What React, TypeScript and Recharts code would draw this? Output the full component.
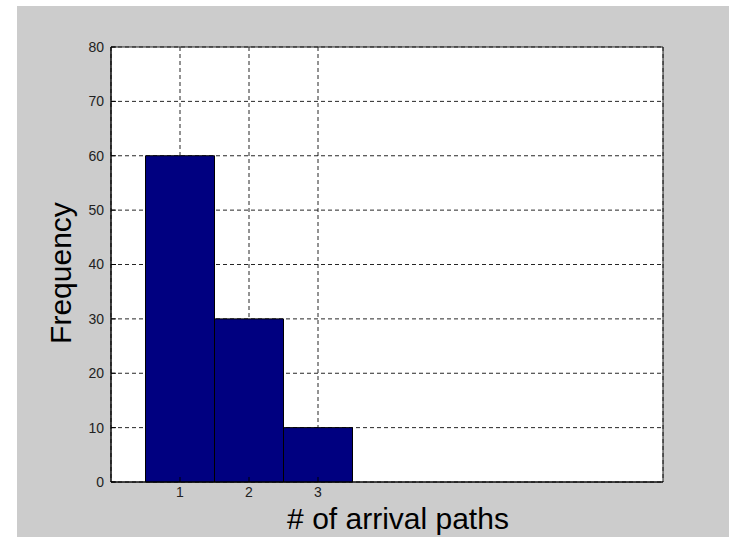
import { Bar, BarChart, CartesianGrid, ReferenceArea, XAxis, YAxis } from 'recharts'

// histogram of arrival paths
const paths = [1, 2, 3]
const counts = [60, 30, 10]
const xTicks = [1, 2, 3]
const yTicks = [0, 10, 20, 30, 40, 50, 60, 70, 80]

const data = paths.map((p, i) => ({ paths: p, count: counts[i] }))

const FONT = '"Liberation Sans", Arial, Helvetica, sans-serif'
const tickStyle = { fontSize: 14, fill: '#222', fontFamily: FONT }

export default function App() {
  return (
    <div style={{ position: 'absolute', left: 0, top: 0, width: 729, height: 537, background: '#fff' }}>
      <div style={{ position: 'absolute', left: 17, top: 6, right: 0, bottom: 0, background: '#cccccc' }} />
      <div style={{ position: 'absolute', left: 0, top: 0 }}>
        <BarChart
          width={729}
          height={537}
          data={data}
          margin={{ top: 47, right: 66, bottom: 0, left: 0 }}
          barCategoryGap={0}
          barGap={0}
          style={{ fontFamily: FONT }}
        >
          <CartesianGrid fill="#fff" stroke="#000" strokeDasharray="4 3" strokeOpacity={0.85} />
          <XAxis
            dataKey="paths"
            type="number"
            domain={[0, 8]}
            ticks={xTicks}
            height={55}
            axisLine={{ stroke: '#000' }}
            tickLine={{ stroke: '#000' }}
            tickSize={-5}
            tickMargin={10}
            tick={tickStyle}
            allowDataOverflow
          />
          <YAxis
            type="number"
            domain={[0, 80]}
            ticks={yTicks}
            width={111}
            axisLine={{ stroke: '#000' }}
            tickLine={{ stroke: '#000' }}
            tickSize={-5}
            tickMargin={12}
            tick={tickStyle}
            interval={0}
          />
          <Bar dataKey="count" fill="#000080" stroke="#000" strokeWidth={1} isAnimationActive={false} />
          <ReferenceArea x1={0} x2={8} y1={0} y2={80} fill="none" stroke="#222" strokeWidth={1} ifOverflow="visible" />
        </BarChart>
      </div>
      <svg width={729} height={537} style={{ position: 'absolute', left: 0, top: 0, pointerEvents: 'none' }}>
        <text x={398} y={529} textAnchor="middle" fontSize={30} fontFamily={FONT} fill="#000">
          # of arrival paths
        </text>
        <text transform="translate(71,273) rotate(-90)" textAnchor="middle" fontSize={30} fontFamily={FONT} fill="#000">
          Frequency
        </text>
      </svg>
    </div>
  )
}
